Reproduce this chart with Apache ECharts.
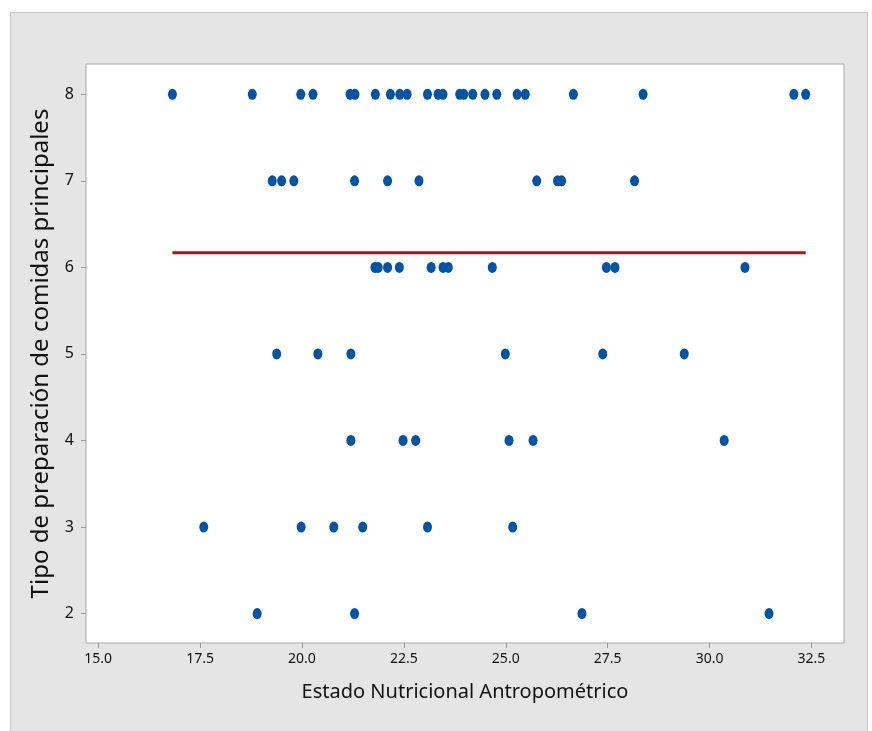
<!DOCTYPE html>
<html>
<head>
<meta charset="utf-8">
<script src="https://cdn.jsdelivr.net/npm/echarts@6/dist/echarts.min.js"></script>
<style>
  html, body { margin: 0; padding: 0; background: #fff; }
  #chart { width: 872px; height: 731px; }
</style>
</head>
<body>
<div id="chart"></div>
<script>
// valores (x = estado nutricional, y = tipo de preparacion)
const row8 = [16.82, 18.78, 19.97, 20.27, 21.18, 21.30, 21.80, 22.17, 22.40, 22.58, 23.08, 23.34,
  23.46, 23.87, 23.97, 24.19, 24.49, 24.78, 25.28, 25.48, 26.66, 28.37, 32.07, 32.36];
const row7 = [19.27, 19.50, 19.80, 21.29, 22.10, 22.87, 25.76, 26.27, 26.37, 28.16];
const row6 = [21.79, 21.87, 22.10, 22.39, 23.17, 23.46, 23.59, 24.67, 27.47, 27.68, 30.87];
const row5 = [19.38, 20.39, 21.20, 24.99, 27.38, 29.38];
const row4 = [21.20, 22.48, 22.79, 25.08, 25.67, 30.36];
const row3 = [17.59, 19.98, 20.78, 21.49, 23.08, 25.17];
const row2 = [18.90, 21.29, 26.87, 31.46];

const xTicks = [15, 17.5, 20, 22.5, 25, 27.5, 30, 32.5];
const yTicks = [2, 3, 4, 5, 6, 7, 8];

// linea ajustada (practicamente horizontal)
const fitX = [16.82, 32.36];
const fitY = [6.17, 6.17];

const rows = { 8: row8, 7: row7, 6: row6, 5: row5, 4: row4, 3: row3, 2: row2 };
const points = [];
Object.keys(rows).forEach(k => {
  rows[k].forEach(x => points.push([x, Number(k)]));
});

const chart = echarts.init(document.getElementById('chart'));

const txt = '#111111';
const font = 'Noto Sans';

chart.setOption({
  animation: false,
  backgroundColor: '#ffffff',
  graphic: [{
    type: 'rect',
    z: -10,
    shape: { x: 10.5, y: 12.5, width: 857, height: 730 },
    style: { fill: '#e5e5e5', stroke: '#c8c8c8', lineWidth: 1 }
  }],
  grid: {
    left: 86, top: 64, right: 28, bottom: 88,
    show: true,
    backgroundColor: '#ffffff',
    borderColor: '#a8a8a8',
    borderWidth: 1
  },
  xAxis: {
    type: 'value',
    min: 14.7,
    max: 33.3,
    name: 'Estado Nutricional Antropométrico',
    nameLocation: 'middle',
    nameGap: 39,
    nameTextStyle: { color: txt, fontSize: 20, fontFamily: font },
    axisLine: { show: false },
    splitLine: { show: false },
    axisTick: {
      show: true, length: 5, customValues: xTicks,
      lineStyle: { color: '#9a9a9a' }
    },
    axisLabel: {
      customValues: xTicks,
      margin: 9,
      color: txt, fontSize: 14, fontFamily: font,
      formatter: v => v.toFixed(1)
    }
  },
  yAxis: {
    type: 'value',
    min: 1.66,
    max: 8.35,
    name: 'Tipo de preparación de comidas principales',
    nameLocation: 'middle',
    nameGap: 33,
    nameTextStyle: { color: txt, fontSize: 24, fontFamily: font },
    axisLine: { show: false },
    splitLine: { show: false },
    axisTick: {
      show: true, length: 5, customValues: yTicks,
      lineStyle: { color: '#9a9a9a' }
    },
    axisLabel: {
      customValues: yTicks,
      margin: 12,
      color: txt, fontSize: 16, fontFamily: font
    }
  },
  series: [
    {
      type: 'line',
      data: fitX.map((x, i) => [x, fitY[i]]),
      showSymbol: false,
      lineStyle: { color: '#9c1a1c', width: 3 },
      z: 2
    },
    {
      type: 'scatter',
      data: points,
      symbol: 'circle',
      symbolSize: [9, 11],
      itemStyle: { color: '#0054a6', opacity: 1 },
      z: 3
    }
  ]
});
</script>
</body>
</html>
